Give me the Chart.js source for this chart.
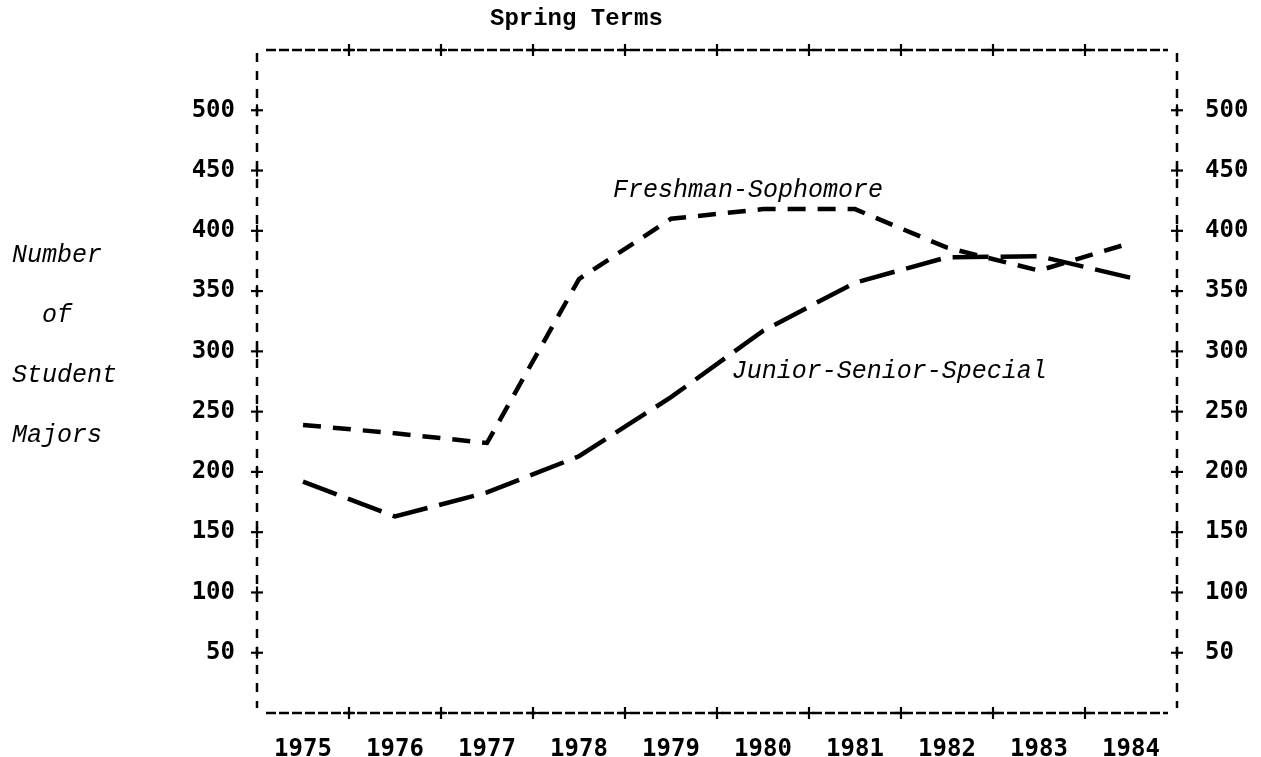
<!DOCTYPE html>
<html>
<head>
<meta charset="utf-8">
<title>Spring Terms</title>
<script src="https://cdn.jsdelivr.net/npm/chart.js@4.4.0/dist/chart.umd.min.js"></script>
<style>
  html, body { margin: 0; padding: 0; background: #fff; }
  #grafico { display: block; }
</style>
</head>
<body>
<canvas id="grafico" width="1261" height="757"></canvas>
<script>
// datos
const anios = ['1975', '1976', '1977', '1978', '1979', '1980', '1981', '1982', '1983', '1984'];
const freshmanSophomore = [239, 232, 224, 360, 410, 418, 418, 386, 367, 390];
const juniorSeniorSpecial = [192, 163, 183, 213, 262, 317, 357, 378, 379, 361];
const marcasY = [50, 100, 150, 200, 250, 300, 350, 400, 450, 500];
const ejeYMin = 0;
const ejeYMax = 550;
const tituloGrafico = 'Spring Terms';
const tituloEjeY = ['Number', '  of', 'Student', 'Majors'];
const etiquetaFreshman = 'Freshman-Sophomore';
const etiquetaJunior = 'Junior-Senior-Special';

const fuenteNumeros = '"DejaVu Sans Mono", monospace';
const fuenteTexto = '"Liberation Mono", "DejaVu Sans Mono", monospace';

// Marco punteado con cruces en cada marca
const marcoPunteado = {
    id: 'marcoPunteado',
    beforeDatasetsDraw(chart) {
        const { ctx, chartArea: a, scales } = chart;
        ctx.save();
        ctx.strokeStyle = '#000';
        ctx.lineWidth = 2.5;

        function linea(x1, y1, x2, y2) {
            ctx.beginPath();
            ctx.moveTo(x1, y1);
            ctx.lineTo(x2, y2);
            ctx.stroke();
        }

        ctx.setLineDash([10, 3]);
        linea(a.left + 9, a.top, a.right - 9, a.top);
        linea(a.left + 9, a.bottom, a.right - 9, a.bottom);
        ctx.setLineDash([9, 9]);
        linea(a.left, a.top + 3, a.left, a.bottom - 5);
        linea(a.right, a.top + 3, a.right, a.bottom - 5);

        ctx.setLineDash([]);
        ctx.lineWidth = 2.2;
        const brazo = 6;
        marcasY.forEach(v => {
            const y = scales.y.getPixelForValue(v);
            [a.left, a.right].forEach(x => {
                linea(x - brazo, y, x + brazo, y);
                linea(x, y - brazo, x, y + brazo);
            });
        });
        for (let i = 0; i < anios.length - 1; i++) {
            const x = (scales.x.getPixelForValue(i) + scales.x.getPixelForValue(i + 1)) / 2;
            [a.top, a.bottom].forEach(y => {
                linea(x - brazo, y, x + brazo, y);
                linea(x, y - brazo, x, y + brazo);
            });
        }
        ctx.restore();
    }
};

// Textos: titulo, titulo del eje y nombres de las series
const textos = {
    id: 'textos',
    afterDatasetsDraw(chart) {
        const { ctx, scales } = chart;
        ctx.save();
        ctx.fillStyle = '#000';
        ctx.textBaseline = 'alphabetic';
        ctx.textAlign = 'left';

        ctx.font = 'bold 24px ' + fuenteTexto;
        ctx.fillText(tituloGrafico, 490, 25);

        ctx.font = 'italic 25px ' + fuenteTexto;
        tituloEjeY.forEach((t, i) => {
            ctx.fillText(t, 12, 262 + i * 60);
        });

        ctx.fillText(etiquetaFreshman, scales.x.getPixelForValue(3.37), scales.y.getPixelForValue(428));
        ctx.fillText(etiquetaJunior, scales.x.getPixelForValue(4.66), scales.y.getPixelForValue(278));
        ctx.restore();
    }
};

function ejeY(posicion, relleno, ancho) {
    return {
        position: posicion,
        min: ejeYMin,
        max: ejeYMax,
        afterBuildTicks: eje => { eje.ticks = marcasY.map(v => ({ value: v })); },
        afterFit: eje => { eje.width = ancho; },
        grid: { display: false, drawTicks: false },
        border: { display: false },
        ticks: {
            padding: relleno,
            color: '#000',
            font: { family: fuenteNumeros, size: 24, weight: 'bold' }
        }
    };
}

new Chart(document.getElementById('grafico').getContext('2d'), {
    type: 'line',
    data: {
        labels: anios,
        datasets: [{
            label: etiquetaFreshman,
            data: freshmanSophomore,
            borderColor: '#000',
            borderWidth: 4.5,
            borderDash: [18, 12],
            pointRadius: 0,
            tension: 0,
            fill: false
        }, {
            label: etiquetaJunior,
            data: juniorSeniorSpecial,
            borderColor: '#000',
            borderWidth: 4.5,
            borderDash: [36, 12],
            pointRadius: 0,
            tension: 0,
            fill: false
        }]
    },
    options: {
        responsive: false,
        animation: false,
        devicePixelRatio: 1,
        layout: { padding: { top: 50, left: 0, right: 0, bottom: 0 } },
        plugins: {
            legend: { display: false },
            tooltip: { enabled: false },
            title: { display: false }
        },
        scales: {
            x: {
                type: 'category',
                offset: true,
                afterFit: eje => { eje.height = 44; },
                grid: { display: false, drawTicks: false },
                border: { display: false },
                ticks: {
                    padding: 22,
                    color: '#000',
                    maxRotation: 0,
                    autoSkip: false,
                    font: { family: fuenteNumeros, size: 24, weight: 'bold' }
                }
            },
            y: ejeY('left', 22, 257),
            y2: ejeY('right', 28, 84)
        }
    },
    plugins: [marcoPunteado, textos]
});
</script>
</body>
</html>
